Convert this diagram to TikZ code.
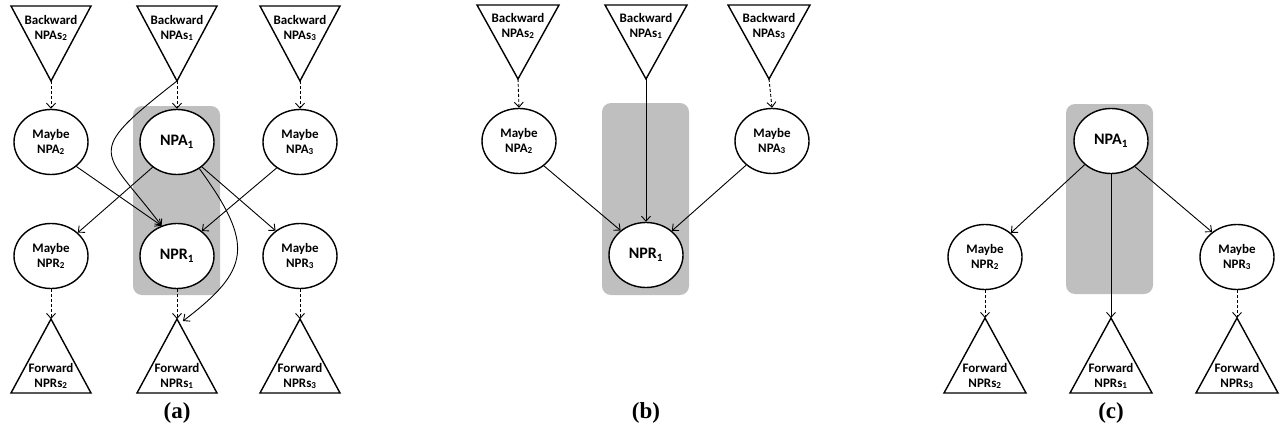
\documentclass[tikz,border=0pt]{standalone}
\usepackage{fontspec}
\setmainfont{Carlito}
\newfontfamily\capfont{Liberation Serif}
\usetikzlibrary{shapes.geometric, arrows.meta}

\tikzset{
  grp/.style={fill=gray!50, draw=none, rounded corners=9pt},
  blob/.style={ellipse, draw, line width=1.4pt, fill=white, minimum width=74pt,
    minimum height=65pt, inner sep=0pt, align=center, font=\fontsize{13}{15}\bfseries},
  mainblob/.style={blob, font=\fontsize{16}{18}\bfseries},
  tri/.style={draw, line width=1.4pt, fill=white, line join=miter},
  trilabel/.style={inner sep=0pt, align=center, font=\fontsize{13}{15}\bfseries},
  link/.style={-{Straight Barb[length=5pt,width=9pt]}, line width=0.9pt},
  maybelink/.style={link, dash pattern=on 3pt off 2pt},
  caption/.style={font=\capfont\bfseries\fontsize{23}{25}\selectfont}
}

\begin{document}
\begin{tikzpicture}[x=1pt, y=-1pt]
  \useasboundingbox (0,0) rectangle (1281,431);

  % ==========================================
  % (a)
  % ==========================================
  \fill[grp] (133,106) rectangle (220,295);

  % backward triangles
  \draw[tri] (11,6) -- (91,6) -- (51,81) -- cycle;
  \draw[tri] (137,6) -- (217,6) -- (177,81) -- cycle;
  \draw[tri] (260,6) -- (340,6) -- (300,81) -- cycle;
  \coordinate (bk2a) at (51,81);
  \coordinate (bk1a) at (177,81);
  \coordinate (bk3a) at (300,81);
  \node[trilabel] (tb2a) at (51,28) {Backward\\NPAs\textsubscript{2}};
  \node[trilabel] (tb1a) at (177,28) {Backward\\NPAs\textsubscript{1}};
  \node[trilabel] (tb3a) at (300,28) {Backward\\NPAs\textsubscript{3}};

  % forward triangles
  \draw[tri] (11,393) -- (91,393) -- (51,319) -- cycle;
  \draw[tri] (137,393) -- (217,393) -- (177,319) -- cycle;
  \draw[tri] (260,393) -- (340,393) -- (300,319) -- cycle;
  \coordinate (fw2a) at (51,319);
  \coordinate (fw1a) at (177,319);
  \coordinate (fw3a) at (300,319);
  \coordinate (fw1ar) at (183,321);
  \node[trilabel] (tf2a) at (51,376) {Forward\\NPRs\textsubscript{2}};
  \node[trilabel] (tf1a) at (177,376) {Forward\\NPRs\textsubscript{1}};
  \node[trilabel] (tf3a) at (300,376) {Forward\\NPRs\textsubscript{3}};

  % circles
  \node[blob] (mpa2a) at (51,142) {Maybe\\NPA\textsubscript{2}};
  \node[mainblob] (npa1a) at (177,142) {NPA\textsubscript{1}};
  \node[blob] (mpa3a) at (300,142) {Maybe\\NPA\textsubscript{3}};
  \node[blob] (mpr2a) at (51,256) {Maybe\\NPR\textsubscript{2}};
  \node[mainblob] (npr1a) at (177,256) {NPR\textsubscript{1}};
  \node[blob] (mpr3a) at (300,256) {Maybe\\NPR\textsubscript{3}};

  % connectors
  \draw[maybelink] (bk2a) -- (mpa2a.north);
  \draw[maybelink] (bk1a) -- (npa1a.north);
  \draw[maybelink] (bk3a) -- (mpa3a.north);
  \draw[maybelink] (mpr2a.south) -- (fw2a);
  \draw[maybelink] (npr1a.south) -- (fw1a);
  \draw[maybelink] (mpr3a.south) -- (fw3a);
  \draw[link] (mpa2a.-44) -- (npr1a.117);
  \draw[link] (mpa3a.228) -- (npr1a.45);
  \draw[link] (npa1a.226) -- (mpr2a.41);
  \draw[link] (npa1a.-45) -- (mpr3a.134);
  \draw[link] (bk1a) .. controls (81,156) and (103,148) .. (npr1a.117);
  \draw[link] (npa1a.-50) .. controls (255,245) and (250,270) .. (fw1ar);

  \node[caption] (capa) at (177,413) {(a)};

  % ==========================================
  % (b)
  % ==========================================
  \fill[grp] (602,103) rectangle (689,295);

  \draw[tri] (477,5) -- (559,5) -- (518,79) -- cycle;
  \draw[tri] (605,5) -- (687,5) -- (646,79) -- cycle;
  \draw[tri] (728,5) -- (810,5) -- (769,79) -- cycle;
  \coordinate (bk2b) at (518,79);
  \coordinate (bk1b) at (646,79);
  \coordinate (bk3b) at (769,79);
  \node[trilabel] (tb2b) at (518,26) {Backward\\NPAs\textsubscript{2}};
  \node[trilabel] (tb1b) at (646,26) {Backward\\NPAs\textsubscript{1}};
  \node[trilabel] (tb3b) at (769,26) {Backward\\NPAs\textsubscript{3}};

  \node[blob] (mpa2b) at (519,141) {Maybe\\NPA\textsubscript{2}};
  \node[blob] (mpa3b) at (772,141) {Maybe\\NPA\textsubscript{3}};
  \node[mainblob] (npr1b) at (646,255) {NPR\textsubscript{1}};

  \draw[maybelink] (bk2b) -- (mpa2b.north);
  \draw[maybelink] (bk3b) -- (mpa3b.north);
  \draw[link] (bk1b) -- (npr1b.north);
  \draw[link] (mpa2b.-45) -- (npr1b.136);
  \draw[link] (mpa3b.223) -- (npr1b.43);

  \node[caption] (capb) at (646,413) {(b)};

  % ==========================================
  % (c)
  % ==========================================
  \fill[grp] (1066,104) rectangle (1153,294);

  \draw[tri] (944,393) -- (1026,393) -- (985,318) -- cycle;
  \draw[tri] (1070,393) -- (1152,393) -- (1111,318) -- cycle;
  \draw[tri] (1196,393) -- (1278,393) -- (1237,318) -- cycle;
  \coordinate (fw2c) at (985,318);
  \coordinate (fw1c) at (1111,318);
  \coordinate (fw3c) at (1237,318);
  \node[trilabel] (tf2c) at (985,376) {Forward\\NPRs\textsubscript{2}};
  \node[trilabel] (tf1c) at (1111,376) {Forward\\NPRs\textsubscript{1}};
  \node[trilabel] (tf3c) at (1237,376) {Forward\\NPRs\textsubscript{3}};

  \node[mainblob] (npa1c) at (1111,141) {NPA\textsubscript{1}};
  \node[blob] (mpr2c) at (985,257) {Maybe\\NPR\textsubscript{2}};
  \node[blob] (mpr3c) at (1237,257) {Maybe\\NPR\textsubscript{3}};

  \draw[link] (npa1c.222) -- (mpr2c.43);
  \draw[link] (npa1c.-47) -- (mpr3c.135);
  \draw[link] (npa1c.south) -- (fw1c);
  \draw[maybelink] (mpr2c.south) -- (fw2c);
  \draw[maybelink] (mpr3c.south) -- (fw3c);

  \node[caption] (capc) at (1111,413) {(c)};

\end{tikzpicture}
\end{document}
